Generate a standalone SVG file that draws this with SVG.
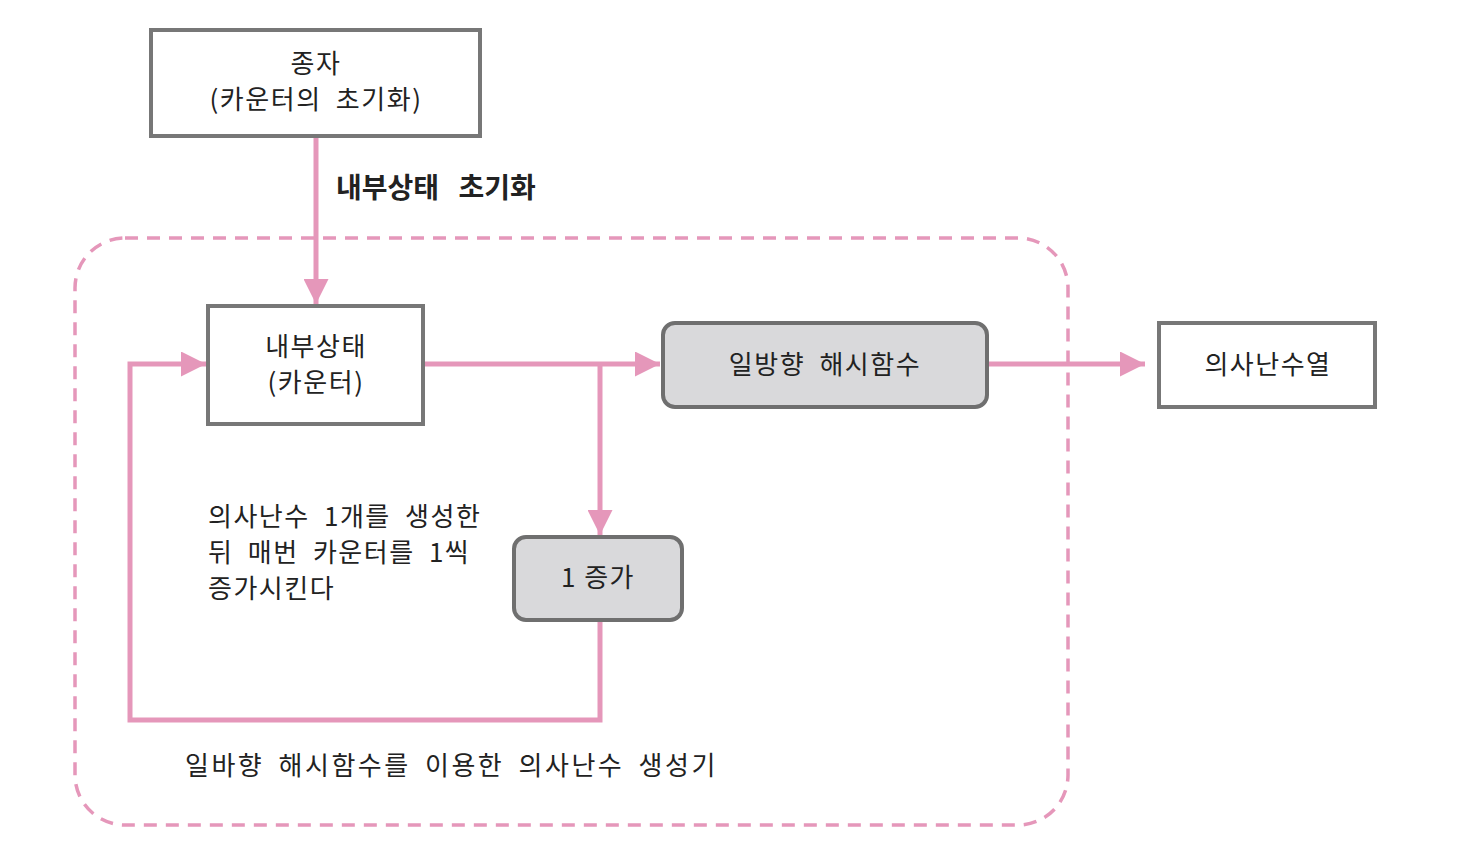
<svg xmlns="http://www.w3.org/2000/svg" width="1468" height="858" viewBox="0 0 1468 858">
<defs>
<style>
text{font-family:"Noto Sans CJK KR","Noto Sans",sans-serif;font-size:26px;fill:#222;letter-spacing:1.5px;word-spacing:7px;}
.c{text-anchor:middle;}
.b{font-weight:bold;font-size:28px;word-spacing:13px;letter-spacing:0;}
.box{fill:#fff;stroke:#777;stroke-width:4;}
.gbox{fill:#d9d9db;stroke:#6f6f6f;stroke-width:4;}
.ln{fill:none;stroke:#e597ba;stroke-width:5;}
.dash{fill:none;stroke:#e597ba;stroke-width:3.5;stroke-dasharray:13 9;}
</style>
<marker id="ah" viewBox="0 0 10 10" refX="10" refY="5" markerWidth="7" markerHeight="5" markerUnits="strokeWidth" orient="auto">
<path d="M0,0 L10,5 L0,10 z" fill="#e597ba"/>
</marker>
</defs>
<rect width="1468" height="858" fill="#fff"/>
<g id="generator">
<rect class="dash" x="75" y="238" width="993" height="587" rx="50" ry="50"/>
<text x="185" y="775" style="letter-spacing:2.5px;word-spacing:6px">일바향 해시함수를 이용한 의사난수 생성기</text>
</g>
<g id="connectors">
<line class="ln" x1="316" y1="136" x2="316" y2="304" marker-end="url(#ah)"/>
<line class="ln" x1="423" y1="364" x2="660" y2="364" marker-end="url(#ah)"/>
<line class="ln" x1="600" y1="364" x2="600" y2="535" marker-end="url(#ah)"/>
<polyline class="ln" points="600,620 600,720 130,720 130,364 206,364" marker-end="url(#ah)"/>
<line class="ln" x1="987" y1="364" x2="1145" y2="364" marker-end="url(#ah)"/>
<text class="b" x="336" y="198">내부상태 초기화</text>
</g>
<g id="seed">
<rect class="box" x="151" y="30" width="329" height="106"/>
<text class="c" x="316" y="73">종자</text>
<text class="c" x="316" y="109">(카운터의 초기화)</text>
</g>
<g id="state">
<rect class="box" x="208" y="306" width="215" height="118"/>
<text class="c" x="316" y="356">내부상태</text>
<text class="c" x="316" y="392">(카운터)</text>
</g>
<g id="hash">
<rect class="gbox" x="663" y="323" width="324" height="84" rx="12" ry="12"/>
<text class="c" x="825" y="374">일방향 해시함수</text>
</g>
<g id="output">
<rect class="box" x="1159" y="323" width="216" height="84"/>
<text class="c" x="1268" y="374">의사난수열</text>
</g>
<g id="increment">
<rect class="gbox" x="514" y="537" width="168" height="83" rx="12" ry="12"/>
<text class="c" x="598" y="587" style="word-spacing:0">1 증가</text>
</g>
<g id="note">
<text x="208" y="526">의사난수 1개를 생성한</text>
<text x="208" y="562">뒤 매번 카운터를 1씩</text>
<text x="208" y="598">증가시킨다</text>
</g>
</svg>
